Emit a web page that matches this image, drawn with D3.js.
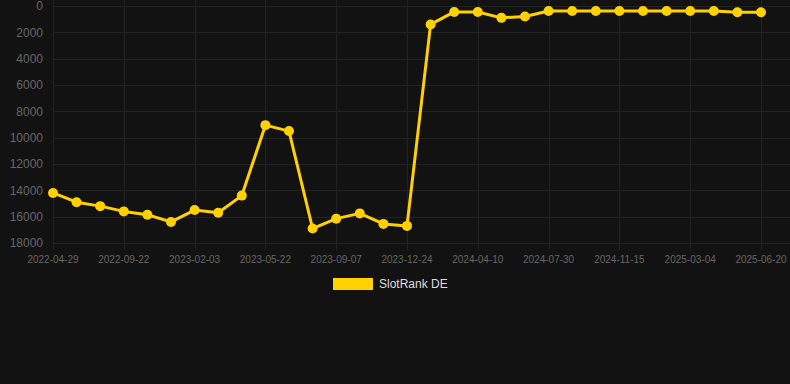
<!DOCTYPE html>
<html>
<head>
<meta charset="utf-8">
<script src="https://cdn.jsdelivr.net/npm/d3@7"></script>
<style>
  html, body { margin: 0; padding: 0; background: #121212; }
  svg { display: block; }
</style>
</head>
<body>
<svg id="chart" width="790" height="384"></svg>
<script>
// category dates (only every 3rd is labelled on the axis)
var dates = [
  "2022-04-29", "2022-06-17", "2022-08-05", "2022-09-22", "2022-11-05", "2022-12-20",
  "2023-02-03", "2023-03-10", "2023-04-15", "2023-05-22", "2023-06-27", "2023-08-02",
  "2023-09-07", "2023-10-13", "2023-11-18", "2023-12-24", "2024-01-30", "2024-03-05",
  "2024-04-10", "2024-05-16", "2024-06-23", "2024-07-30", "2024-09-04", "2024-10-10",
  "2024-11-15", "2024-12-21", "2025-01-27", "2025-03-04", "2025-04-08", "2025-05-15",
  "2025-06-20"
];
var rankDE = [
  14200, 14900, 15200, 15600, 15850, 16400,
  15500, 15700, 14400, 9050, 9500, 16900,
  16150, 15750, 16550, 16700, 1400, 450,
  450, 900, 800, 380, 380, 380,
  380, 380, 380, 380, 380, 480,
  480
];
var yTicks = [0, 2000, 4000, 6000, 8000, 10000, 12000, 14000, 16000, 18000];
var seriesName = "SlotRank DE";

var svg = d3.select("#chart"),
    width = +svg.attr("width");

var plotLeft = 53, plotRight = 761, plotTop = 6, plotBottom = 243;

var x = d3.scalePoint().domain(dates).range([plotLeft, plotRight]);
var y = d3.scaleLinear().domain([0, 18000]).range([plotTop, plotBottom]);

var gridColor = "#222222";

// horizontal grid + y labels
var yAxis = svg.append("g");
yAxis.selectAll("line")
    .data(yTicks)
    .enter().append("line")
      .attr("x1", plotLeft).attr("x2", width)
      .attr("y1", function(d) { return Math.round(y(d)) + 0.5; })
      .attr("y2", function(d) { return Math.round(y(d)) + 0.5; })
      .attr("stroke", gridColor).attr("stroke-width", 1);
yAxis.selectAll("text")
    .data(yTicks)
    .enter().append("text")
      .attr("x", 43)
      .attr("y", function(d) { return y(d); })
      .attr("dy", "0.35em")
      .attr("text-anchor", "end")
      .attr("font-family", "Liberation Sans, Arial, sans-serif")
      .attr("font-size", 12)
      .attr("fill", "#666666")
      .text(function(d) { return d; });

// vertical grid + x labels (every 3rd category)
var shown = dates.filter(function(d, i) { return i % 3 === 0; });
var xAxis = svg.append("g");
xAxis.selectAll("line")
    .data(shown)
    .enter().append("line")
      .attr("x1", function(d) { return Math.round(x(d)) + 0.5; })
      .attr("x2", function(d) { return Math.round(x(d)) + 0.5; })
      .attr("y1", 0).attr("y2", plotBottom + 7)
      .attr("stroke", gridColor).attr("stroke-width", 1);
xAxis.selectAll("text")
    .data(shown)
    .enter().append("text")
      .attr("x", function(d) { return x(d); })
      .attr("y", 263)
      .attr("text-anchor", "middle")
      .attr("font-family", "Liberation Sans, Arial, sans-serif")
      .attr("font-size", 10)
      .attr("fill", "#666666")
      .text(function(d) { return d; });

// the series
var gold = "#FFD100";
var line = d3.line()
    .x(function(d, i) { return x(dates[i]); })
    .y(function(d) { return y(d); });

svg.append("path")
    .datum(rankDE)
    .attr("d", line)
    .attr("fill", "none")
    .attr("stroke", gold)
    .attr("stroke-width", 3)
    .attr("stroke-linejoin", "round");

svg.append("g")
  .selectAll("circle")
  .data(rankDE)
  .enter().append("circle")
    .attr("cx", function(d, i) { return x(dates[i]); })
    .attr("cy", function(d) { return y(d); })
    .attr("r", 5)
    .attr("fill", gold);

// legend
var legend = svg.append("g");
legend.append("rect")
    .attr("x", 333).attr("y", 278)
    .attr("width", 40).attr("height", 12)
    .attr("fill", gold);
legend.append("text")
    .attr("x", 379).attr("y", 284)
    .attr("dy", "0.35em")
    .attr("font-family", "Liberation Sans, Arial, sans-serif")
    .attr("font-size", 12)
    .attr("fill", "#dddddd")
    .text(seriesName);
</script>
</body>
</html>
